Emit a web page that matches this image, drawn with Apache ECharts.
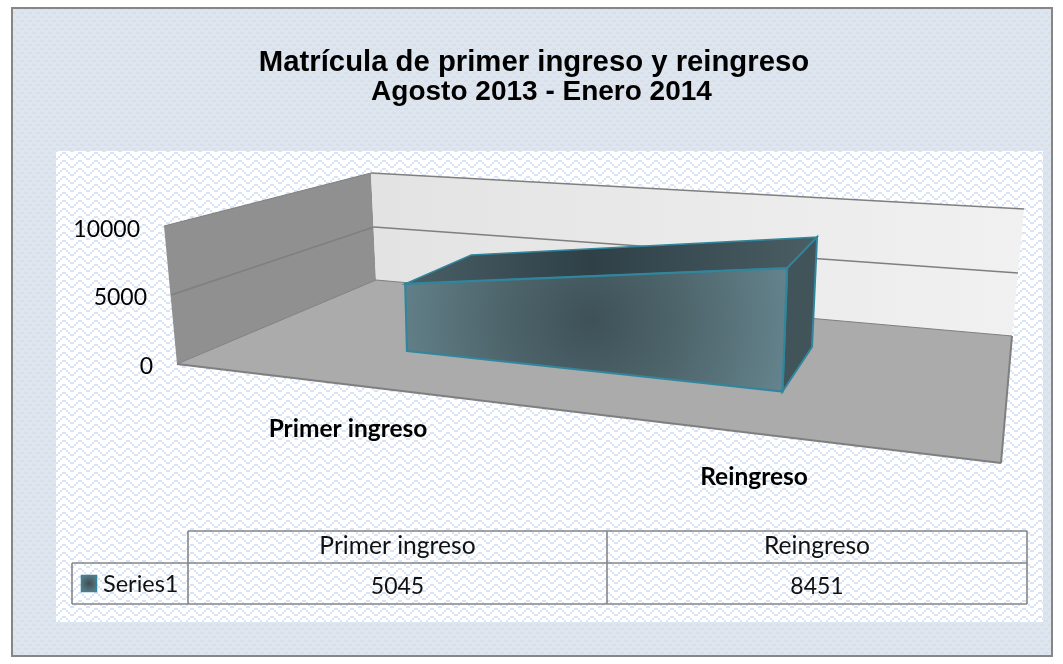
<!DOCTYPE html>
<html><head><meta charset="utf-8">
<style>html,body{margin:0;padding:0;background:#fff}#c{width:1063px;height:664px}</style>
<script src="https://cdn.jsdelivr.net/npm/echarts@6/dist/echarts.min.js"></script>
</head><body><div id="c"></div>
<script>
const categories = ['Primer ingreso', 'Reingreso'];
const values = [5045, 8451];
const seriesName = 'Series1';
const yTicks = [0, 5000, 10000];
const titleLines = ['Matrícula de primer ingreso y reingreso', 'Agosto 2013 - Enero 2014'];

function brick() {
  const c = document.createElement('canvas'); c.width = 8; c.height = 8;
  const g = c.getContext('2d');
  g.fillStyle = '#DCE6F2'; g.fillRect(0, 0, 8, 8);
  g.fillStyle = '#DEDEDE'; g.fillRect(0, 0, 4, 2); g.fillRect(4, 4, 4, 2);
  return c;
}
function weave() {
  const c = document.createElement('canvas'); c.width = 16; c.height = 16;
  const g = c.getContext('2d');
  g.fillStyle = '#FFFFFF'; g.fillRect(0, 0, 16, 16);
  g.fillStyle = '#D8E3F3';
  for (let i = 0; i < 8; i += 2) {
    g.fillRect(i, i, 2, 2);
    g.fillRect(14 - i, i, 2, 2);
    g.fillRect(i, 8 + i, 2, 2);
    g.fillRect(14 - i, 8 + i, 2, 2);
  }
  return c;
}

const grey = '#7F7F7F';
const P = { A:[177,364], B:[1001,463], C:[376,280], D:[1012,336], E:[164,226], F:[371,173], G:[1024,209] };
const line = (a, b, w) => ({ type:'line', z:3, shape:{x1:a[0],y1:a[1],x2:b[0],y2:b[1]}, style:{stroke:grey,lineWidth:w} });
const poly = (pts, fill) => ({ type:'polygon', z:2, shape:{points:pts}, style:{fill} });
const rule = (x1,y1,x2,y2) => ({ type:'line', z:3, shape:{x1,y1,x2,y2}, style:{stroke:'#868686',lineWidth:1.6} });
const cellText = (text, x, y, align, size) => ({ type:'text', z:4, style:{text, x, y, align:align||'center', verticalAlign:'middle', fontFamily:'Lato', fontSize:size||24.6, fill:'#111'} });

const colX = [188, 607, 1027], rowY = [531, 563, 604], keyX = 72;

const graphicEls = [
  { type:'rect', z:0, shape:{x:12,y:8,width:1040,height:648}, style:{fill:{image:brick(),repeat:'repeat'},stroke:'#868686',lineWidth:2} },
  { type:'rect', z:1, shape:{x:56,y:151,width:987,height:471}, style:{fill:{image:weave(),repeat:'repeat'}} },
  poly([P.E,P.F,P.C,P.A], '#909090'),
  poly([P.F,P.G,P.D,P.C], {type:'linear',x:0,y:0,x2:1,y2:0,colorStops:[{offset:0,color:'#E3E3E3'},{offset:1,color:'#F1F1F1'}]}),
  poly([P.A,P.C,P.D,P.B], '#ABABAB'),
  line(P.F,P.G,1.5), line(P.E,P.F,1), line(P.A,P.C,1), line(P.C,P.D,1),
  line(P.A,P.B,2), line(P.B,P.D,2),
  line([171,295],[374,227],1.5), line([374,227],[1018,273],1.5),
  rule(colX[0],rowY[0],colX[2],rowY[0]), rule(keyX,rowY[1],colX[2],rowY[1]), rule(keyX,rowY[2],colX[2],rowY[2]),
  rule(keyX,rowY[1],keyX,rowY[2]), rule(colX[0],rowY[0],colX[0],rowY[2]), rule(colX[1],rowY[0],colX[1],rowY[2]), rule(colX[2],rowY[0],colX[2],rowY[2]),
  cellText(categories[0],(colX[0]+colX[1])/2,546), cellText(categories[1],(colX[1]+colX[2])/2,546),
  cellText(String(values[0]),(colX[0]+colX[1])/2,587,'center',23), cellText(String(values[1]),(colX[1]+colX[2])/2,587,'center',23),
  cellText(seriesName,103,584,'left',23.5),
  { type:'rect', z:4, shape:{x:81.5,y:575.5,width:15,height:16},
    style:{fill:{type:'radial',x:.5,y:.5,r:.7,colorStops:[{offset:0,color:'#3C4E54'},{offset:1,color:'#668890'}]},stroke:'#31859C',lineWidth:1.5} }
];

// corner calibration of the slab, for category position t (0..1) and value fraction v (0..1)
const front = { b0:[407,351], b1:[782.5,391.5], t0:[403.5,218], t1:[788,245.5] };
const back  = { b0:[473,315], b1:[812,347],     t0:[469.5,196], t1:[818,217] };
const mix = (a, b, k) => [a[0]+(b[0]-a[0])*k, a[1]+(b[1]-a[1])*k];
const onPlane = (pl, t, v) => mix(mix(pl.b0,pl.b1,t), mix(pl.t0,pl.t1,t), v);

function renderSlab(params, api) {
  if (params.dataIndex !== 0) return null;
  const cs = params.coordSys;
  const pick = (i, val) => {
    const p = api.coord([i, val]);
    return [((p[0]-cs.x)/cs.width-0.25)/0.5, (cs.y+cs.height-p[1])/cs.height];
  };
  const nodes = [[0,0],[1,0],[1,values[1]],[0,values[0]]].map(n => pick(n[0], n[1]));
  const F = nodes.map(n => onPlane(front, n[0], n[1]));
  const B = nodes.map(n => onPlane(back, n[0], n[1]));
  const edge = '#31859C';
  return { type:'group', children:[
    { type:'polygon', shape:{points:[F[3],F[2],B[2],B[3]]},
      style:{fill:{type:'linear',x:0,y:0,x2:1,y2:0,colorStops:[{offset:0,color:'#4A5F66'},{offset:.45,color:'#2F4047'},{offset:1,color:'#4A5E64'}]},stroke:edge,lineWidth:1.5} },
    { type:'polygon', shape:{points:[F[1],B[1],B[2],F[2]]}, style:{fill:'#40545A',stroke:edge,lineWidth:2} },
    { type:'polygon', shape:{points:F},
      style:{fill:{type:'radial',x:.485,y:.42,r:1.6,colorStops:[{offset:0,color:'#3E5158'},{offset:.5,color:'#50676E'},{offset:1,color:'#64838C'}]},stroke:edge,lineWidth:2.2} }
  ]};
}

const yRich = (pad) => ({fontFamily:'Lato',fontSize:23,color:'#000',padding:[3,pad,0,0]});
const xRich = (pad) => ({fontFamily:'Lato',fontWeight:'bold',fontSize:24.5,color:'#000',padding:[pad,0,0,0]});
const titleStyle = (size) => ({fontFamily:'Liberation Sans',fontWeight:'bold',fontSize:size,color:'#000'});
const chart = echarts.init(document.getElementById('c'), null, {renderer:'canvas'});
chart.setOption({
  animation:false,
  title:[
    { text:titleLines[0], left:529, top:43, textAlign:'center', textStyle:titleStyle(29.3) },
    { text:titleLines[1], left:536.5, top:73, textAlign:'center', textStyle:titleStyle(28) }
  ],
  graphic:{elements:graphicEls},
  grid:{left:145,top:228,width:812,height:137},
  xAxis:{type:'category',z:10,data:categories,boundaryGap:true,axisLine:{show:false},axisTick:{show:false},splitLine:{show:false},
    axisLabel:{margin:0,interval:0,formatter:(v,i)=>`{x${i}|${v}}`,rich:{x0:xRich(52),x1:xRich(100)}}},
  yAxis:{type:'value',z:10,min:yTicks[0],max:yTicks[2],interval:yTicks[1],axisLine:{show:false},axisTick:{show:false},splitLine:{show:false},
    axisLabel:{margin:-8,formatter:(v,i)=>`{y${i}|${v}}`,rich:{y0:yRich(0),y1:yRich(6),y2:yRich(13)}}},
  series:[{name:seriesName,type:'custom',z:8,coordinateSystem:'cartesian2d',renderItem:renderSlab,clip:false,
    data:categories.map((c,i)=>[i,values[i]]),encode:{x:0,y:1}}]
});
</script></body></html>
